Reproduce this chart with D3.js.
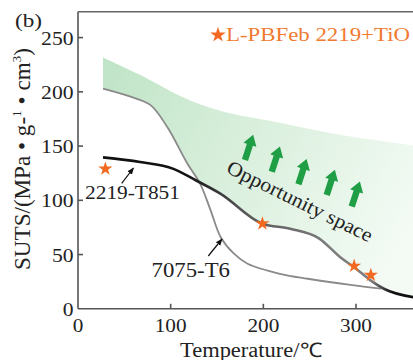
<!DOCTYPE html>
<html><head><meta charset="utf-8">
<script src="https://cdn.jsdelivr.net/npm/d3@7"></script>
<style>html,body{margin:0;padding:0;background:#fff}svg{display:block}</style>
</head><body>
<svg id="c" width="413" height="360"></svg>
<script>
// ---- data ----
const t7075 = [27, 55, 78, 96, 118, 132, 143, 154, 168, 183, 219, 248, 294, 327];
const s7075 = [203, 196, 188, 168, 134, 115, 91, 66, 51, 41.5, 32, 27.7, 22, 18.5];
const t2219 = [27, 67, 103, 127, 154, 199, 229, 260, 283, 300, 316, 330, 362];
const s2219 = [139.6, 135.3, 129, 118.5, 106, 78.4, 73.8, 65, 47.6, 37, 26, 18.5, 10.7];
const tBand = [27, 64, 121, 165, 204, 276, 362];
const sBand = [231.7, 216.8, 192, 180, 173.7, 161.4, 150.6];
const tStar = [29.5, 199, 298, 316];
const sStar = [129, 78.5, 39.5, 31];
const xTicks = [0, 100, 200, 300];
const yTicks = [0, 50, 100, 150, 200, 250];
// opportunity arrows (centres, data space)
const tArrow = [184.5, 213.4, 242.2, 272.7, 299.7];
const sArrow = [148.6, 137.8, 126.3, 116.3, 105.6];

const svg = d3.select("#c");
const x = d3.scaleLinear().domain([0, 361.5]).range([78, 413]);
const y = d3.scaleLinear().domain([0, 273.6]).range([308.8, 12]);
const serif = "'Liberation Serif','Times New Roman',Times,serif";

const defs = svg.append("defs");
const gg = defs.append("linearGradient").attr("id","gband").attr("gradientUnits","userSpaceOnUse")
  .attr("x1",100).attr("y1",60).attr("x2",413).attr("y2",235);
gg.append("stop").attr("offset",0).attr("stop-color","#bfe4c6");
gg.append("stop").attr("offset",0.5).attr("stop-color","#dbf0de");
gg.append("stop").attr("offset",1).attr("stop-color","#f4fbf5");
const lg = defs.append("linearGradient").attr("id","g2219").attr("gradientUnits","userSpaceOnUse")
  .attr("x1",78).attr("y1",0).attr("x2",413).attr("y2",0);
[[0,"#111"],[(185-78)/335,"#111"],[(240-78)/335,"#555"],[(330-78)/335,"#7d7d7d"],[(372-78)/335,"#7d7d7d"],[(392-78)/335,"#111"],[1,"#111"]]
  .forEach(([o,c])=>lg.append("stop").attr("offset",o).attr("stop-color",c));
const mk = defs.append("marker").attr("id","ah").attr("viewBox","0 0 10 10").attr("refX",9).attr("refY",5)
  .attr("markerWidth",7).attr("markerHeight",7).attr("markerUnits","userSpaceOnUse").attr("orient","auto");
mk.append("path").attr("d","M0,1 L10,5 L0,9 Z").attr("fill","#111");

const band = tBand.map((t,i)=>[t,sBand[i]]);
const d7075 = t7075.map((t,i)=>[t,s7075[i]]);
const d2219 = t2219.map((t,i)=>[t,s2219[i]]);
const curveA = d3.curveCatmullRom.alpha(0.5);
const curveB = d3.curveMonotoneX;

// green band
svg.append("path").datum(band)
  .attr("d", d3.area().x(d=>x(d[0])).y0(y(0)).y1(d=>y(d[1])).curve(curveA))
  .attr("fill","url(#gband)");
// white below curves
[[d7075,curveA],[d2219,curveB]].forEach(([dd,cv])=>{
  svg.append("path").datum(dd)
    .attr("d", d3.area().x(d=>x(d[0])).y0(y(0)+2).y1(d=>y(d[1])).curve(cv))
    .attr("fill","#fff");
});

// lines
svg.append("path").datum(d7075).attr("d",d3.line().x(d=>x(d[0])).y(d=>y(d[1])).curve(curveA))
  .attr("fill","none").attr("stroke","#8a8a8a").attr("stroke-width",1.8);
svg.append("path").datum(d2219).attr("d",d3.line().x(d=>x(d[0])).y(d=>y(d[1])).curve(curveB))
  .attr("fill","none").attr("stroke","url(#g2219)").attr("stroke-width",2.6);

// green arrows
const arrowPath = "M-3.2,13 L-3.2,-3 L-6.8,-3 L0,-13.5 L6.8,-3 L3.2,-3 L3.2,13 Z";
tArrow.forEach((t,i)=>{
  svg.append("path").attr("d",arrowPath).attr("fill","#1f9e45")
    .attr("transform",`translate(${x(t)},${y(sArrow[i])}) rotate(18)`);
});

// stars
const star = d3.symbol().type(d3.symbolStar).size(62);
tStar.forEach((t,i)=>{
  svg.append("path").attr("d",star()).attr("fill","#f26a21")
    .attr("transform",`translate(${x(t)},${y(sStar[i])})`);
});

// axes / frame
const ax = svg.append("g").attr("stroke","#555").attr("stroke-width",1.6).attr("fill","none");
ax.append("line").attr("x1",x(0)).attr("x2",413).attr("y1",y(0)).attr("y2",y(0));
ax.append("line").attr("x1",x(0)).attr("x2",x(0)).attr("y1",y(0)).attr("y2",11.7);
ax.append("line").attr("x1",x(0)).attr("x2",413).attr("y1",11.7).attr("y2",11.7).attr("stroke","#666").attr("stroke-width",1.4);
yTicks.forEach(v=>{ if(v>0) ax.append("line").attr("x1",x(0)).attr("x2",x(0)+5).attr("y1",y(v)).attr("y2",y(v)); });
xTicks.forEach(v=>{ if(v>0) ax.append("line").attr("x1",x(v)).attr("x2",x(v)).attr("y1",y(0)).attr("y2",y(0)-5); });

function txt(px, py, s, size, len, anchor, color){
  const t = svg.append("text").attr("x",px).attr("y",py).text(s)
    .attr("font-family",serif).attr("font-size",size).attr("fill",color||"#222")
    .attr("text-anchor",anchor||"start");
  if(len) t.attr("textLength",len).attr("lengthAdjust","spacingAndGlyphs");
  return t;
}
yTicks.forEach(v=>txt(73.5, y(v)+7, String(v), 19, String(v).length*10.8, "end"));
xTicks.forEach(v=>txt(x(v), 331.5, String(v), 19, String(v).length*10.6, "middle"));
txt(251, 356.5, "Temperature/℃", 20, 142, "middle");
txt(15, 27, "(b)", 18.5, 27, "start");

// y title
const yt = svg.append("text").attr("transform","translate(30,159) rotate(-90)")
  .attr("font-family",serif).attr("font-size",22.5).attr("fill","#222").attr("text-anchor","middle")
  .attr("textLength",222).attr("lengthAdjust","spacingAndGlyphs");
yt.append("tspan").text("SUTS/(MPa • g-");
yt.append("tspan").text("1").attr("font-size",13).attr("dy",-9);
yt.append("tspan").text(" • cm").attr("dy",9);
yt.append("tspan").text("3").attr("font-size",13).attr("dy",-9);
yt.append("tspan").text(")").attr("dy",9);

// legend
svg.append("path").attr("d",d3.symbol().type(d3.symbolStar).size(75)()).attr("fill","#f26a21")
  .attr("transform","translate(218,35)");
txt(226, 40.5, "L-PBFeb 2219+TiO", 18.5, 184, "start", "#f07a30");

// labels
txt(85, 198.5, "2219-T851", 19.5, 95, "start");
txt(151.5, 276.8, "7075-T6", 20.5, 78.5, "start");
svg.append("line").attr("x1",121.7).attr("y1",183.3).attr("x2",133.5).attr("y2",168)
  .attr("stroke","#111").attr("stroke-width",1.2).attr("marker-end","url(#ah)");
svg.append("line").attr("x1",208.3).attr("y1",256).attr("x2",222).attr("y2",239)
  .attr("stroke","#111").attr("stroke-width",1.2).attr("marker-end","url(#ah)");

// opportunity text
txt(0, 0, "Opportunity space", 20, 160, "middle")
  .attr("transform","translate(300,201) rotate(26.2)").attr("dy","0.35em");
</script>
</body></html>
